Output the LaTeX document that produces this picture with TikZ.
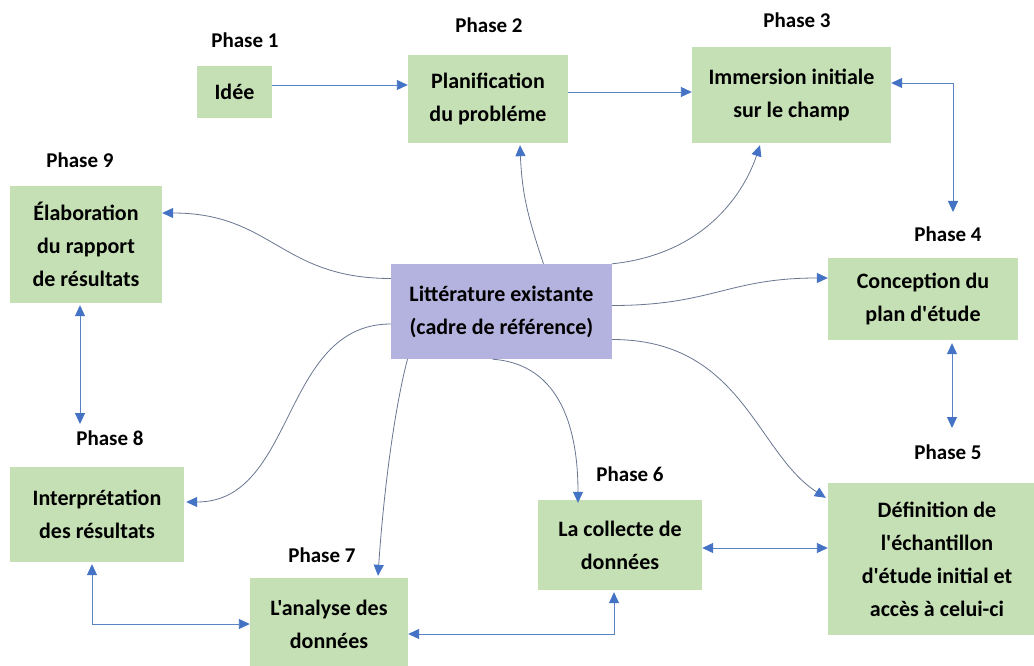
\documentclass[tikz,border=0pt]{standalone}
\usepackage{fontspec}
\setmainfont{Carlito}[Ligatures=TeXOff]
\usetikzlibrary{arrows.meta}
\definecolor{boxgreen}{RGB}{197,224,180}
\definecolor{boxpurple}{RGB}{180,178,222}
\definecolor{tipblue}{RGB}{68,114,196}
\definecolor{lineblue}{RGB}{91,132,196}
\definecolor{curvegray}{RGB}{105,118,145}
\tikzset{
  greenbox/.style={fill=boxgreen, inner sep=0pt, align=center,
    font=\bfseries\fontsize{22}{33}\selectfont},
  litbox/.style={fill=boxpurple, inner sep=0pt, align=center,
    font=\bfseries\fontsize{22}{33}\selectfont},
  phaselbl/.style={inner sep=0pt, font=\bfseries\fontsize{21}{25}\selectfont},
  straightconn/.style={draw=lineblue, line width=0.9pt,
    -{Triangle[length=11pt,width=10pt,color=tipblue]}},
  dblconn/.style={draw=lineblue, line width=0.9pt,
    {Triangle[length=11pt,width=10pt,color=tipblue]}-{Triangle[length=11pt,width=10pt,color=tipblue]}},
  curveconn/.style={draw=curvegray, line width=0.8pt,
    -{Triangle[length=11pt,width=10pt,color=tipblue]}}
}
\begin{document}
\begin{tikzpicture}[x=1pt,y=-1pt]
\useasboundingbox[fill=white] (0,0) rectangle (1034,666);

% boxes
\node[greenbox, minimum width=75pt, minimum height=52pt] (idee) at (234.5,92) {Idée};
\node[greenbox, minimum width=160pt, minimum height=88pt] (plan) at (488,99) {Planification\\du probléme};
\node[greenbox, minimum width=199pt, minimum height=96pt] (imm) at (791.5,95) {Immersion initiale\\sur le champ};
\node[greenbox, minimum width=152pt, minimum height=117pt] (elab) at (86,244.5) {Élaboration\\du rapport\\de résultats};
\node[litbox, minimum width=221pt, minimum height=95pt] (lit) at (501.5,311.5) {Littérature existante\\(cadre de référence)};
\node[greenbox, minimum width=190pt, minimum height=82pt] (conc) at (923,299) {Conception du\\plan d'étude};
\node[greenbox, minimum width=174pt, minimum height=95pt] (interp) at (97,514.5) {Interprétation\\des résultats};
\node[greenbox, minimum width=218pt, minimum height=152pt] (defn) at (937,559) {Définition de\\l'échantillon\\d'étude initial et\\accès à celui-ci};
\node[greenbox, minimum width=164pt, minimum height=90pt] (coll) at (620,545) {La collecte de\\données};
\node[greenbox, minimum width=158pt, minimum height=92pt] (anal) at (329,624) {L'analyse des\\données};

% phase labels
\node[phaselbl] (p1) at (245,40) {Phase 1};
\node[phaselbl] (p2) at (489,25) {Phase 2};
\node[phaselbl] (p3) at (797,20) {Phase 3};
\node[phaselbl] (p4) at (948,234) {Phase 4};
\node[phaselbl] (p5) at (948,452) {Phase 5};
\node[phaselbl] (p6) at (630,474) {Phase 6};
\node[phaselbl] (p7) at (322,555) {Phase 7};
\node[phaselbl] (p8) at (110,438) {Phase 8};
\node[phaselbl] (p9) at (80,160) {Phase 9};

% free ends
\coordinate (c4) at (953,212);
\coordinate (c5) at (952,428);
\coordinate (c8) at (80,424);

% straight connectors
\draw[straightconn] ([yshift=7pt]idee.east) -- ([yshift=7pt]idee.east -| plan.west);
\draw[straightconn] ([yshift=7pt]plan.east) -- ([yshift=7pt]plan.east -| imm.west);
\draw[dblconn] ([yshift=12pt]imm.east) -| (c4);
\draw[dblconn, shorten <=3pt] ([xshift=29pt]conc.south) -- (c5);
\draw[dblconn] ([yshift=-3pt]coll.east) -- ([yshift=-3pt]coll.east -| defn.west);
\draw[dblconn, shorten >=2pt] ([yshift=-10pt]anal.east) -| ([xshift=-6pt]coll.south);
\draw[dblconn, shorten <=2pt] ([xshift=-5pt]interp.south) |- (anal.west);
\draw[dblconn, shorten <=2pt] ([xshift=-6pt]elab.south) -- (c8);

% curved connectors from the literature box
\draw[curveconn] ([xshift=42pt]lit.north) .. controls +(-15,-45) and +(2,50) .. ([xshift=32pt,yshift=-2pt]plan.south);
\draw[curveconn] (lit.north east) .. controls +(95,-10) and +(-15,45) .. ([xshift=-31.5pt,yshift=-2pt]imm.south);
\draw[curveconn] ([yshift=6pt]lit.east) .. controls +(100,0) and +(-100,0) .. ([yshift=21pt]conc.west);
\draw[curveconn] ([yshift=-28pt]lit.east) .. controls +(130,0) and +(-70,-45) .. ([xshift=-2pt,yshift=-15pt]defn.north west);
\draw[curveconn] ([yshift=33pt]lit.west) .. controls +(-110,0) and +(110,0) .. ([yshift=31.5pt]elab.east);
\draw[curveconn] ([yshift=-12.5pt]lit.west) .. controls +(-110,0) and +(110,0) .. ([xshift=2pt,yshift=12.5pt]interp.east);
\draw[curveconn] ([xshift=-94pt]lit.south) .. controls +(-12,45) and +(6,-90) .. ([xshift=49pt,yshift=2pt]anal.north);
\draw[curveconn] ([xshift=-9pt]lit.south) .. controls +(70,5) and +(0,-70) .. ([xshift=-42pt,yshift=-3pt]coll.north);
\end{tikzpicture}
\end{document}
